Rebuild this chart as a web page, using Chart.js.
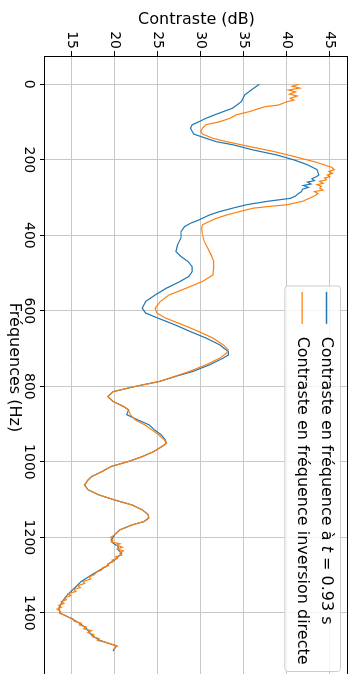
<!DOCTYPE html>
<html>
<head>
<meta charset="utf-8">
<script src="https://cdn.jsdelivr.net/npm/chart.js@4.4.1/dist/chart.umd.min.js"></script>
<style>
  html, body { margin: 0; padding: 0; background: #fff; width: 350px; height: 674px; overflow: hidden; }
  /* the chart is drawn in landscape and turned a quarter clockwise */
  #wrap { position: absolute; left: 350px; top: 0; width: 700px; height: 350px; transform-origin: 0 0; transform: rotate(90deg); }
</style>
</head>
<body>
<div id="wrap"><canvas id="chart" width="700" height="350"></canvas></div>
<script>
// Contrast at t = 0.93 s (blue)
const blueFreq = [0, 11, 28, 46, 63, 81, 90, 99, 107, 116, 125, 132, 143, 152, 160, 174, 187, 200, 213, 226, 240,
  244, 250, 255, 259, 264, 268, 273, 278, 284, 290, 296, 302, 310, 319, 328, 337, 346, 359, 368, 377, 390, 407, 425,
  443, 456, 469, 483, 496, 509, 522, 540, 558, 575, 593, 606, 619, 637, 655, 672, 690, 708, 717, 725, 743, 761, 772,
  787, 800, 814, 827, 840, 853, 862, 875, 889, 902, 915, 928, 942, 951, 959, 973, 986, 999, 1012, 1026, 1039, 1048,
  1061, 1074, 1087, 1101, 1114, 1127, 1140, 1149, 1158, 1167, 1180, 1193, 1207, 1215, 1224, 1233, 1242, 1251, 1260,
  1268, 1277, 1286, 1299, 1317, 1335, 1352, 1370, 1388, 1401, 1414, 1427, 1441, 1458, 1471, 1480, 1487, 1494, 1501];
const blueDb = [36.8, 36.1, 35.1, 34.7, 33.7, 31.6, 30.6, 29.8, 29.0, 28.8, 29.0, 29.2, 30.6, 31.8, 33.7, 36.1, 38.8, 40.8, 42.4, 43.5, 43.7,
  43.5, 42.9, 43.2, 42.4, 42.8, 41.9, 42.5, 41.8, 41.7, 41.3, 41.0, 40.4, 37.7, 35.3, 33.7, 32.2, 31.0, 29.8, 28.8, 28.1, 27.7, 27.7, 27.3,
  27.1, 27.7, 28.5, 29.0, 29.0, 28.6, 27.6, 26.0, 24.7, 23.6, 23.2, 23.6, 25.0, 27.0, 28.8, 30.6, 32.2, 33.2, 33.2, 32.6, 31.0, 29.0, 27.3,
  25.2, 22.4, 19.8, 19.2, 19.8, 21.0, 21.6, 21.4, 22.7, 24.0, 24.6, 25.4, 25.9, 26.0, 25.5, 24.5, 23.2, 21.6, 19.6, 18.5, 17.3, 16.9,
  16.5, 16.9, 18.1, 20.0, 22.0, 23.2, 23.9, 23.9, 23.4, 22.0, 20.6, 20.0, 19.6, 19.8, 20.4, 20.4, 20.8, 20.4, 20.0,
  19.4, 19.0, 18.3, 17.3, 16.1, 15.3, 14.5, 13.9, 13.5, 13.7, 14.9, 15.9, 16.7, 17.3, 18.1, 19.2, 20.2, 20.0, 19.8];

// Contrast from direct inversion (orange)
const orangeFreq = [0, 5, 10, 15, 20, 26, 31, 37, 42, 46, 55, 59, 63, 72, 81, 90, 99, 107, 116, 125, 132, 143, 152, 165,
  178, 191, 205, 213, 220, 226, 231, 236, 240, 245, 248, 253, 257, 262, 266, 270, 275, 280, 284, 289, 293, 302, 310,
  319, 324, 328, 337, 346, 355, 363, 372, 381, 399, 416, 434, 452, 469, 487, 505, 522, 540, 558, 575, 593, 606, 619,
  637, 655, 672, 690, 703, 712, 725, 743, 761, 774, 787, 800, 814, 827, 840, 853, 862, 875, 889, 902, 915, 928, 942,
  951, 959, 973, 986, 999, 1012, 1026, 1039, 1048, 1061, 1074, 1087, 1101, 1114, 1127, 1140, 1149, 1158, 1167, 1180,
  1193, 1200, 1207, 1212, 1217, 1221, 1226, 1231, 1236, 1242, 1247, 1251, 1256, 1260, 1265, 1270, 1275, 1280, 1286,
  1292, 1299, 1305, 1310, 1317, 1322, 1328, 1333, 1338, 1343, 1349, 1354, 1360, 1365, 1370, 1375, 1380, 1385, 1390,
  1396, 1401, 1406, 1411, 1416, 1422, 1427, 1432, 1437, 1442, 1447, 1452, 1458, 1463, 1468, 1473, 1478, 1484, 1488,
  1492, 1496];
const orangeDb = [41.4, 40.6, 41.5, 40.2, 41.0, 40.3, 41.2, 40.4, 40.8, 40.0, 39.0, 37.5, 36.9, 35.7, 34.1, 33.4, 32.2, 30.6, 30.2, 30.0, 30.2, 31.4, 33.0, 35.7,
  38.5, 40.8, 43.2, 44.3, 45.2, 45.5, 44.9, 45.3, 44.7, 45.0, 44.4, 44.6, 43.8, 44.2, 43.5, 44.0, 43.8, 44.2, 43.2, 43.6, 43.4, 42.6, 41.8,
  40.0, 37.7, 36.1, 34.5, 33.0, 31.8, 31.0, 30.2, 30.1, 30.2, 30.4, 30.8, 31.2, 31.5, 31.5, 31.4, 30.2, 28.3, 26.3, 25.3, 24.7, 24.9, 25.9,
  27.9, 29.8, 31.4, 32.6, 33.2, 33.0, 32.2, 30.6, 28.6, 26.9, 25.2, 22.4, 19.8, 19.2, 19.8, 21.0, 21.6, 21.8, 22.4, 23.5, 24.3, 25.1, 25.8,
  26.0, 25.5, 24.5, 23.2, 21.6, 19.6, 18.5, 17.3, 16.9, 16.5, 16.9, 18.1, 20.0, 22.0, 23.2, 23.9, 24.0, 23.4, 22.0, 20.6,
  20.0, 19.5, 19.8, 19.6, 20.6, 20.2, 20.9, 20.3, 21.0, 20.6, 20.8, 20.1, 20.3, 19.7, 19.8, 19.2, 19.3, 18.6, 18.5,
  17.9, 17.6, 17.0, 17.2, 16.3, 16.5, 15.7, 16.0, 15.2, 15.5, 14.6, 14.9, 14.2, 14.4, 13.8, 14.1, 13.5, 13.8, 13.3,
  13.7, 13.6, 14.2, 14.6, 15.2, 15.3, 16.1, 15.9, 16.7, 16.4, 17.3, 16.9, 17.6, 17.4, 18.2, 18.0, 19.0, 19.8, 20.3,
  20.0, 19.9];

const freqTicks = [0, 200, 400, 600, 800, 1000, 1200, 1400];
const dbTicks = [15, 20, 25, 30, 35, 40, 45];

const FONT = 'DejaVu Sans';
const LABEL_SIZE = 16;

function toPoints(xs, ys) {
    return xs.map((x, i) => ({ x: x, y: ys[i] }));
}

// matplotlib-like box around the axes + legend in the upper right corner
const mplLook = {
    id: 'mplLook',
    afterDraw(chart) {
        const ctx = chart.ctx;
        const a = chart.chartArea;
        ctx.save();
        ctx.strokeStyle = '#000';
        ctx.lineWidth = 1;
        ctx.strokeRect(Math.round(a.left) + 0.5, Math.round(a.top) + 0.5,
            Math.round(a.right - a.left), Math.round(a.bottom - a.top));

        // legend
        const fs = LABEL_SIZE;
        const sets = chart.data.datasets;
        const textW = Math.max(...sets.map(ds => measureLabel(ctx, ds.label, fs)));
        const pad = 0.4 * fs, handle = 2 * fs, gap = 0.8 * fs;
        const boxW = pad + handle + gap + textW + pad;
        const boxH = 55.7;
        const boxX = a.right - 0.5 * fs - boxW;
        const boxY = a.top + 7;
        ctx.beginPath();
        ctx.roundRect(boxX + 0.5, boxY + 0.5, boxW, boxH, 3);
        ctx.fillStyle = 'rgba(255,255,255,0.8)';
        ctx.fill();
        ctx.strokeStyle = '#cccccc';
        ctx.lineWidth = 1;
        ctx.stroke();

        sets.forEach((ds, i) => {
            const cy = boxY + 14.5 + i * 24.4;
            ctx.beginPath();
            ctx.strokeStyle = ds.borderColor;
            ctx.lineWidth = 1.3;
            ctx.moveTo(boxX + pad, cy);
            ctx.lineTo(boxX + pad + handle, cy);
            ctx.stroke();
            drawLabel(ctx, ds.label, boxX + pad + handle + gap, cy, fs);
        });
        ctx.restore();
    }
};

// the " t " of a label is drawn in italic, like the math text of the original
function splitLabel(label) {
    const m = label.match(/^(.* )(t)( = .*)$/);
    return m ? [[m[1], false], [m[2], true], [m[3], false]] : [[label, false]];
}

function measureLabel(ctx, label, fs) {
    let w = 0;
    splitLabel(label).forEach(([txt, it]) => {
        ctx.font = (it ? 'italic ' : '') + fs + 'px "' + FONT + '"';
        w += ctx.measureText(txt).width;
    });
    return w;
}

function drawLabel(ctx, label, x, y, fs) {
    ctx.fillStyle = '#000';
    ctx.textBaseline = 'middle';
    ctx.textAlign = 'left';
    splitLabel(label).forEach(([txt, it]) => {
        ctx.font = (it ? 'italic ' : '') + fs + 'px "' + FONT + '"';
        ctx.fillText(txt, x, y);
        x += ctx.measureText(txt).width;
    });
}

const ctx = document.getElementById('chart').getContext('2d');

new Chart(ctx, {
    type: 'line',
    data: {
        datasets: [
            {
                label: 'Contraste en fréquence à t = 0.93 s',
                data: toPoints(blueFreq, blueDb),
                borderColor: '#1f77b4',
                order: 1
            },
            {
                label: 'Contraste en fréquence inversion directe',
                data: toPoints(orangeFreq, orangeDb),
                borderColor: '#ff7f0e',
                order: 0
            }
        ]
    },
    options: {
        responsive: false,
        animation: false,
        layout: { padding: { top: 2, right: 21, left: 0, bottom: 0 } },
        elements: {
            point: { radius: 0 },
            line: { borderWidth: 1.2, tension: 0, fill: false }
        },
        plugins: {
            legend: { display: false },
            tooltip: { enabled: false }
        },
        scales: {
            x: {
                type: 'linear',
                min: -75,
                max: 1575,
                afterBuildTicks: axis => { axis.ticks = freqTicks.map(v => ({ value: v })); },
                afterFit: axis => { axis.height = 45; axis.paddingLeft = 0; axis.paddingRight = 0; },
                grid: { color: '#c8c8c8', lineWidth: 1, tickLength: 5, tickColor: '#000', tickWidth: 1 },
                border: { display: false },
                ticks: {
                    color: '#000', font: { family: FONT, size: 14 }, padding: 3, maxRotation: 0, autoSkip: false,
                    callback: v => String(v)
                },
                title: { display: true, text: 'Fréquences (Hz)', color: '#000', font: { family: FONT, size: LABEL_SIZE }, padding: { top: 0, bottom: 4.4 } }
            },
            y: {
                type: 'linear',
                min: 11.9,
                max: 47.1,
                afterBuildTicks: axis => { axis.ticks = dbTicks.map(v => ({ value: v })); },
                afterFit: axis => { axis.width = 56; axis.paddingTop = 0; axis.paddingBottom = 0; },
                grid: { color: '#c8c8c8', lineWidth: 1, tickLength: 5, tickColor: '#000', tickWidth: 1 },
                border: { display: false },
                ticks: { color: '#000', font: { family: FONT, size: 14 }, padding: 2, callback: v => String(v) },
                title: { display: true, text: 'Contraste (dB)', color: '#000', font: { family: FONT, size: LABEL_SIZE }, padding: { top: 10.4, bottom: 0 } }
            }
        }
    },
    plugins: [mplLook]
});
</script>
</body>
</html>
